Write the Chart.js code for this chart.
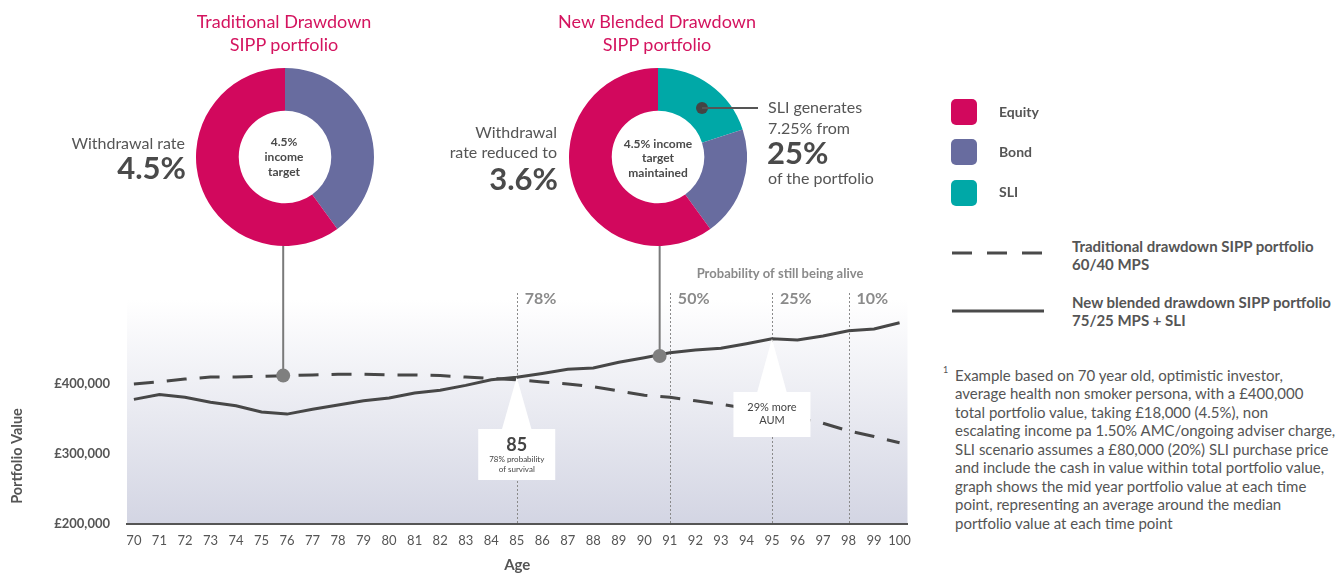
<!DOCTYPE html>
<html>
<head>
<meta charset="utf-8">
<script src="https://cdn.jsdelivr.net/npm/chart.js@4.4.1/dist/chart.umd.min.js"></script>
<style>
body{margin:0;width:1344px;height:574px;overflow:hidden;background:#fff;font-family:Lato,sans-serif;color:#4d4d4d;position:relative}
.abs{position:absolute}
.title{color:#d4145f;font-size:18px;line-height:23px;text-align:center;width:300px}
.big{font-weight:700;font-size:31px;line-height:34px;color:#4a4a4a}
.mid{font-size:16px;line-height:20.5px;color:#555}
.centre{font-weight:700;font-size:12px;text-align:center;color:#4a4a4a}
.sq{width:26px;height:26px;border-radius:5px}
.lg{font-weight:700;font-size:14px;color:#555;line-height:18px}
.lg2{font-weight:700;font-size:15px;color:#555;line-height:18px;white-space:nowrap}
.note{font-size:15px;line-height:18.5px;color:#555;white-space:nowrap}
</style>
</head>
<body>

<div class="abs" style="left:0;top:0;width:920px;height:574px"><canvas id="lineas"></canvas></div>

<div class="abs title" style="left:134px;top:10px">Traditional Drawdown<br>SIPP portfolio</div>
<div class="abs title" style="left:507px;top:10px">New Blended Drawdown<br>SIPP portfolio</div>

<div class="abs" style="left:195.5px;top:68px;width:178px;height:178px"><canvas id="donut1"></canvas></div>
<div class="abs" style="left:569px;top:68px;width:178px;height:178px"><canvas id="donut2"></canvas></div>

<div class="abs centre" style="left:234px;top:134px;width:100px;line-height:15px">4.5%<br>income<br>target</div>
<div class="abs centre" style="left:608px;top:136.5px;width:100px;line-height:14.5px">4.5% income<br>target<br>maintained</div>

<div class="abs mid" style="left:0;top:133px;width:185px;text-align:right">Withdrawal rate</div>
<div class="abs big" style="left:0;top:150px;width:186px;text-align:right">4.5%</div>

<div class="abs mid" style="left:300px;top:121.5px;width:257px;text-align:right">Withdrawal<br>rate reduced to</div>
<div class="abs big" style="left:300px;top:161px;width:258px;text-align:right">3.6%</div>

<div class="abs" style="left:696px;top:102px;width:12px;height:12px;border-radius:50%;background:#444"></div>
<div class="abs" style="left:702px;top:107px;width:56px;height:2px;background:#555"></div>
<div class="abs mid" style="left:768px;top:97px;white-space:nowrap">SLI generates<br>7.25% from</div>
<div class="abs big" style="left:767px;top:135px">25%</div>
<div class="abs mid" style="left:768px;top:168px;white-space:nowrap">of the portfolio</div>

<div class="abs sq" style="left:951px;top:99px;background:#d2085d"></div>
<div class="abs sq" style="left:951px;top:139px;background:#686c9f"></div>
<div class="abs sq" style="left:951px;top:180px;background:#00a8a7"></div>
<div class="abs lg" style="left:999px;top:103px">Equity</div>
<div class="abs lg" style="left:999px;top:143px">Bond</div>
<div class="abs lg" style="left:999px;top:183px">SLI</div>

<svg class="abs" style="left:950px;top:250px" width="96" height="6"><line x1="2" y1="3" x2="94" y2="3" stroke="#4a4a4a" stroke-width="3" stroke-dasharray="20,15"/></svg>
<svg class="abs" style="left:950px;top:308px" width="96" height="6"><line x1="2" y1="3" x2="94" y2="3" stroke="#4a4a4a" stroke-width="3"/></svg>
<div class="abs lg2" style="left:1072px;top:237px">Traditional drawdown SIPP portfolio<br>60/40 MPS</div>
<div class="abs lg2" style="left:1072px;top:293px">New blended drawdown SIPP portfolio<br>75/25 MPS + SLI</div>

<div class="abs" style="left:943px;top:364px;font-size:9px;color:#555">1</div>
<div class="abs note" style="left:955px;top:365.5px">Example based on 70 year old, optimistic investor,<br>average health non smoker persona, with a £400,000<br>total portfolio value, taking £18,000 (4.5%), non<br>escalating income pa 1.50% AMC/ongoing adviser charge,<br>SLI scenario assumes a £80,000 (20%) SLI purchase price<br>and include the cash in value within total portfolio value,<br>graph shows the mid year portfolio value at each time<br>point, representing an average around the median<br>portfolio value at each time point</div>

<script>
// edades y valores de cartera
const edades = [70,71,72,73,74,75,76,77,78,79,80,81,82,83,84,85,86,87,88,89,90,91,92,93,94,95,96,97,98,99,100]
const tradicional = [400000,403000,407000,410000,410000,411000,412000,413000,414000,414000,413000,413000,412000,410000,408000,406000,403000,400000,396000,390000,384000,381000,376000,371000,365000,359000,351000,344000,333000,325000,316000]
const combinado = [378000,385000,381000,374000,369000,360000,357000,364000,370000,376000,380000,387000,391000,398000,406000,409500,415000,421000,423000,431000,437500,444500,448500,451000,457500,464500,463000,468500,476000,478500,487500]
const ticksY = [200000,300000,400000]

// probabilidad de seguir vivo
const edadesProb = [85,91,95,98]
const probs = ["78%","50%","25%","10%"]

// puntos que conectan con los donuts
const marcas = [{edad:75.85, valor:412000},{edad:90.6, valor:440000}]

// composicion de las carteras (orden horario desde arriba)
const activos = ["SLI","Bond","Equity"]
const mixTradicional = [0,40,60]
const mixCombinado = [20,20,60]
const coloresActivos = ["#00a8a7","#686c9f","#d2085d"]

Chart.defaults.font.family = "Lato, sans-serif"
Chart.defaults.color = "#555"

const decor = {
  id:"decor",
  beforeDraw(chart){
    const {ctx, chartArea:a} = chart
    const g = ctx.createLinearGradient(0,a.top,0,a.bottom)
    g.addColorStop(0,"#ffffff")
    g.addColorStop(1,"#d3d5e3")
    ctx.save()
    ctx.fillStyle = g
    ctx.fillRect(a.left,a.top,a.right-a.left,a.bottom-a.top)
    ctx.restore()
  },
  beforeDatasetsDraw(chart){
    const {ctx, chartArea:a, scales:{x}} = chart
    ctx.save()
    ctx.strokeStyle = "#8a8a8a"
    ctx.lineWidth = 1
    ctx.setLineDash([2,2])
    edadesProb.forEach((e,i) => {
      const px = Math.round(x.getPixelForValue(e)) + 0.5
      ctx.beginPath()
      ctx.moveTo(px,293)
      ctx.lineTo(px,a.bottom)
      ctx.stroke()
    })
    ctx.setLineDash([])
    ctx.fillStyle = "#8a8a8a"
    ctx.font = "700 16px Lato"
    ctx.textBaseline = "middle"
    edadesProb.forEach((e,i) => {
      ctx.fillText(probs[i], x.getPixelForValue(e)+8, 299)
    })
    ctx.font = "700 13px Lato"
    ctx.textAlign = "center"
    ctx.fillText("Probability of still being alive", 780, 274)

    // titulo eje y
    ctx.fillStyle = "#555"
    ctx.font = "700 14.5px Lato"
    ctx.translate(17, 456)
    ctx.rotate(-Math.PI/2)
    ctx.fillText("Portfolio Value", 0, 0)
    ctx.restore()
  },
  afterDatasetsDraw(chart){
    const {ctx, scales:{x,y}} = chart
    ctx.save()

    // cajas de llamada
    const cajas = [
      {edad:85, valor:409500, top:429, h:51},
      {edad:95, valor:464500, top:392, h:45}
    ]
    cajas.forEach(c => {
      const cx = x.getPixelForValue(c.edad)
      const py = y.getPixelForValue(c.valor)
      ctx.fillStyle = "#fff"
      ctx.beginPath()
      ctx.moveTo(cx, py)
      ctx.lineTo(cx+15, c.top+1)
      ctx.lineTo(cx-15, c.top+1)
      ctx.closePath()
      ctx.fill()
      ctx.fillRect(cx-38.5, c.top, 77, c.h)
    })
    ctx.fillStyle = "#444"
    ctx.textAlign = "center"
    ctx.textBaseline = "middle"
    let cx = x.getPixelForValue(85)
    ctx.font = "700 18px Lato"
    ctx.fillText("85", cx, 445)
    ctx.font = "8px Lato"
    ctx.fillText("78% probability", cx, 459)
    ctx.fillText("of survival", cx, 469)
    cx = x.getPixelForValue(95)
    ctx.font = "11px Lato"
    ctx.fillText("29% more", cx, 407)
    ctx.fillText("AUM", cx, 420)

    // conectores a los donuts
    marcas.forEach(m => {
      const px = x.getPixelForValue(m.edad)
      const py = y.getPixelForValue(m.valor)
      ctx.strokeStyle = "#7a7a7a"
      ctx.lineWidth = 2
      ctx.beginPath()
      ctx.moveTo(px,244)
      ctx.lineTo(px,py)
      ctx.stroke()
      ctx.fillStyle = "#7f7f7f"
      ctx.beginPath()
      ctx.arc(px,py,7,0,Math.PI*2)
      ctx.fill()
    })
    ctx.restore()
  }
}

new Chart(document.getElementById("lineas"),{
  type:"line",
  data:{
    datasets:[
      {
        label:"Traditional drawdown SIPP portfolio 60/40 MPS",
        data:edades.map((e,i) => ({x:e, y:tradicional[i]})),
        borderColor:"#474747",
        borderWidth:3,
        borderDash:[20,13],
        pointRadius:0,
        tension:0
      },
      {
        label:"New blended drawdown SIPP portfolio 75/25 MPS + SLI",
        data:edades.map((e,i) => ({x:e, y:combinado[i]})),
        borderColor:"#474747",
        borderWidth:3,
        pointRadius:0,
        tension:0
      }
    ]
  },
  options:{
    responsive:true,
    maintainAspectRatio:false,
    animation:false,
    layout:{padding:{top:300,left:8,right:12,bottom:0}},
    plugins:{legend:{display:false},tooltip:{enabled:false}},
    scales:{
      x:{
        type:"linear",
        min:69.73,
        max:100.31,
        afterBuildTicks: s => { s.ticks = edades.map(v => ({value:v})) },
        afterFit: s => { s.height = 50 },
        grid:{display:false, drawTicks:false},
        border:{display:true, color:"#555", width:2},
        ticks:{autoSkip:false, maxRotation:0, padding:9, color:"#555", font:{size:13}},
        title:{display:true, text:"Age", color:"#555", font:{size:15, weight:"700"}, padding:{top:10,bottom:0}}
      },
      y:{
        min:200000,
        max:520000,
        afterBuildTicks: s => { s.ticks = ticksY.map(v => ({value:v})) },
        afterFit: s => { s.width = 119 },
        grid:{display:false, drawTicks:false},
        border:{display:false},
        ticks:{padding:17, color:"#555", font:{size:13, weight:"700"},
          callback: v => "£" + v.toLocaleString("en-GB")},
        title:{display:false}
      }
    }
  },
  plugins:[decor]
})

function donut(id, mix){
  new Chart(document.getElementById(id),{
    type:"doughnut",
    data:{
      labels:activos,
      datasets:[{data:mix, backgroundColor:coloresActivos, borderWidth:0}]
    },
    options:{
      responsive:true,
      maintainAspectRatio:false,
      animation:false,
      cutout:"52%",
      plugins:{legend:{display:false},tooltip:{enabled:false}}
    }
  })
}

donut("donut1", mixTradicional)
donut("donut2", mixCombinado)
</script>
</body>
</html>
